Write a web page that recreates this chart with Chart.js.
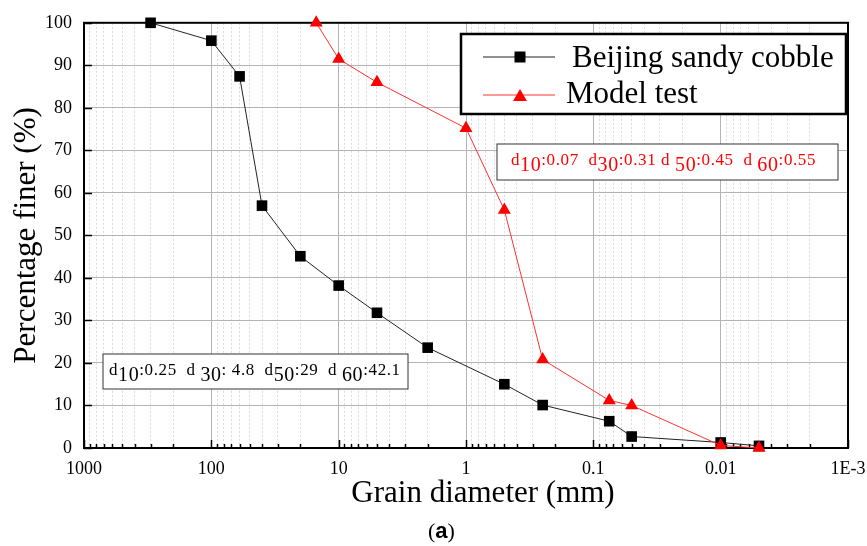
<!DOCTYPE html>
<html>
<head>
<meta charset="utf-8">
<script src="https://cdn.jsdelivr.net/npm/chart.js@4.4.1/dist/chart.umd.min.js"></script>
<style>
  body { margin: 0; background: #fff; }
  canvas { display: block; }
</style>
</head>
<body>
<canvas id="grading-chart" width="867" height="546"></canvas>
<script>
const SERIF = "'Liberation Serif', 'Times New Roman', serif";

// Sieblinien: Korndurchmesser (mm) und Siebdurchgang (%)
const cobbleDiameters = [300, 100, 60, 40, 20, 10, 5, 2, 0.5, 0.25, 0.075, 0.05, 0.01, 0.005];
const cobbleFiner = [100, 95.8, 87.4, 57.0, 45.1, 38.2, 31.8, 23.6, 15.0, 10.1, 6.3, 2.7, 1.3, 0.5];
const modelDiameters = [15, 10, 5, 1, 0.5, 0.25, 0.075, 0.05, 0.01, 0.005];
const modelFiner = [100, 91.5, 86.0, 75.2, 56.0, 20.8, 11.2, 10.0, 0.6, 0.0];

const seriesLabels = ['Beijing sandy cobble', 'Model test'];
const xTitle = 'Grain diameter (mm)';
const yTitle = 'Percentage finer (%)';
const xMajorTicks = [1000, 100, 10, 1, 0.1, 0.01, 0.001];
const xTickLabels = ['1000', '100', '10', '1', '0.1', '0.01', '1E-3'];

// Kennwerte: [Text, Index, Text, Index, ...]
const cobbleNote = ['d', '10', ':0.25  d ', '30', ': 4.8  d', '50', ':29  d ', '60', ':42.1'];
const modelNote = ['d', '10', ':0.07  d', '30', ':0.31 d ', '50', ':0.45  d ', '60', ':0.55'];

// alle Teilstriche 1..9 pro Dekade
const xTickValues = [];
for (let k = -3; k <= 2; k++) {
    for (let m = 1; m <= 9; m++) xTickValues.push(parseFloat((m * Math.pow(10, k)).toPrecision(3)));
}
xTickValues.push(1000);

const isMajorX = v => xMajorTicks.includes(v);
const isMajorY = v => v % 10 === 0;

function drawNote(ctx, parts, x, baseline, color) {
    ctx.fillStyle = color;
    ctx.textAlign = 'left';
    ctx.textBaseline = 'alphabetic';
    ctx.letterSpacing = '0.6px';
    parts.forEach((txt, i) => {
        const sub = i % 2 === 1;
        ctx.font = sub ? `20px ${SERIF}` : `17px ${SERIF}`;
        ctx.fillText(txt, x, sub ? baseline + 6 : baseline);
        x += ctx.measureText(txt).width;
    });
    ctx.letterSpacing = '0px';
}

function drawBox(ctx, x, y, w, h, lw, color) {
    ctx.fillStyle = '#fff';
    ctx.fillRect(x, y, w, h);
    ctx.strokeStyle = color;
    ctx.lineWidth = lw;
    ctx.strokeRect(x, y, w, h);
}

function drawSquare(ctx, x, y, side, color) {
    ctx.fillStyle = color;
    ctx.fillRect(x - side / 2, y - side / 2, side, side);
}

function drawTriangle(ctx, x, y, r, color) {
    ctx.fillStyle = color;
    ctx.beginPath();
    ctx.moveTo(x, y - r);
    ctx.lineTo(x + r * 0.866, y + r / 2);
    ctx.lineTo(x - r * 0.866, y + r / 2);
    ctx.closePath();
    ctx.fill();
}

const framePlugin = {
    id: 'frame',
    beforeDatasetsDraw(chart) {
        const { ctx, chartArea: a, scales } = chart;
        ctx.save();
        ctx.strokeStyle = '#000';
        ctx.lineWidth = 1.5;
        ctx.beginPath();
        // Teilstriche nach innen
        xTickValues.forEach(v => {
            const px = Math.round(scales.x.getPixelForValue(v)) + 0.5;
            const len = isMajorX(v) ? 8 : 4;
            ctx.moveTo(px, a.bottom);
            ctx.lineTo(px, a.bottom - len);
        });
        scales.y.ticks.forEach(t => {
            const py = Math.round(scales.y.getPixelForValue(t.value)) + 0.5;
            const len = isMajorY(t.value) ? 8 : 5;
            ctx.moveTo(a.left, py);
            ctx.lineTo(a.left + len, py);
        });
        ctx.stroke();
        ctx.lineWidth = 2;
        ctx.strokeRect(a.left, a.top, a.right - a.left, a.bottom - a.top);
        ctx.restore();
    },
    afterDatasetsDraw(chart) {
        const { ctx } = chart;
        ctx.save();
        // Legende
        drawBox(ctx, 461, 34, 385, 80, 2.5, '#000');
        ctx.lineWidth = 1;
        ctx.strokeStyle = '#222';
        ctx.beginPath(); ctx.moveTo(483, 57); ctx.lineTo(555, 57); ctx.stroke();
        drawSquare(ctx, 520, 57, 11, '#000');
        ctx.strokeStyle = '#ff3030';
        ctx.beginPath(); ctx.moveTo(483, 95); ctx.lineTo(555, 95); ctx.stroke();
        drawTriangle(ctx, 520, 97, 8, '#ff0000');
        ctx.fillStyle = '#000';
        ctx.font = `31px ${SERIF}`;
        ctx.textAlign = 'left';
        ctx.textBaseline = 'alphabetic';
        ctx.fillText(seriesLabels[0], 572, 67);
        ctx.fillText(seriesLabels[1], 566, 103);

        // Kennwerte
        drawBox(ctx, 103, 354, 305, 35, 1, '#333');
        drawNote(ctx, cobbleNote, 109, 375, '#000');
        drawBox(ctx, 497, 144, 341, 36, 1, '#333');
        drawNote(ctx, modelNote, 511, 165, '#ff0000');

        // x-Achsentitel
        ctx.fillStyle = '#000';
        ctx.font = `31px ${SERIF}`;
        ctx.textAlign = 'center';
        ctx.fillText(xTitle, 483, 502);

        // (a)
        ctx.textAlign = 'left';
        let x = 428;
        ctx.font = `22px ${SERIF}`;
        ctx.fillText('(', x, 538); x += ctx.measureText('(').width;
        ctx.font = `bold 22px 'Liberation Sans', sans-serif`;
        ctx.fillText('a', x, 538); x += ctx.measureText('a').width;
        ctx.font = `22px ${SERIF}`;
        ctx.fillText(')', x, 538);
        ctx.restore();
    }
};

const ctx = document.getElementById('grading-chart').getContext('2d');
new Chart(ctx, {
    type: 'line',
    data: {
        datasets: [{
            label: seriesLabels[0],
            data: cobbleDiameters.map((d, i) => ({ x: d, y: cobbleFiner[i] })),
            borderColor: '#222',
            borderWidth: 1,
            pointStyle: 'rect',
            pointRadius: 7.5,
            pointBackgroundColor: '#000',
            pointBorderWidth: 0,
            clip: false,
            order: 2
        }, {
            label: seriesLabels[1],
            data: modelDiameters.map((d, i) => ({ x: d, y: modelFiner[i] })),
            borderColor: '#ff3030',
            borderWidth: 1,
            pointStyle: 'triangle',
            pointRadius: 7.5,
            pointBackgroundColor: '#ff0000',
            pointBorderWidth: 0,
            clip: false,
            order: 1
        }]
    },
    options: {
        responsive: false,
        animation: false,
        devicePixelRatio: 1,
        layout: { padding: { top: 20, right: 19, left: 0, bottom: 0 } },
        plugins: {
            legend: { display: false },
            tooltip: { enabled: false }
        },
        scales: {
            x: {
                type: 'logarithmic',
                reverse: true,
                min: 0.001,
                max: 1000,
                afterBuildTicks: scale => {
                    scale.ticks = xTickValues.map(v => ({ value: v, major: isMajorX(v) }));
                },
                afterFit: scale => { scale.height = 98; },
                ticks: {
                    autoSkip: false,
                    maxRotation: 0,
                    padding: 10,
                    color: '#000',
                    font: { family: SERIF, size: 18 },
                    callback: v => {
                        const i = xMajorTicks.indexOf(v);
                        return i >= 0 ? xTickLabels[i] : '';
                    }
                },
                grid: {
                    drawTicks: false,
                    lineWidth: 1,
                    color: c => isMajorX(c.tick.value) ? '#b4b4b4' : '#dadada'
                },
                border: {
                    display: false,
                    dash: c => isMajorX(c.tick.value) ? [] : [2, 2]
                },
                title: { display: false }
            },
            y: {
                min: 0,
                max: 100,
                afterFit: scale => { scale.width = 84; },
                ticks: {
                    stepSize: 5,
                    padding: 12,
                    color: '#000',
                    font: { family: SERIF, size: 18 },
                    callback: v => isMajorY(v) ? String(v) : ''
                },
                grid: {
                    drawTicks: false,
                    lineWidth: 1,
                    color: c => isMajorY(c.tick.value) ? '#b4b4b4' : '#dadada'
                },
                border: {
                    display: false,
                    dash: c => isMajorY(c.tick.value) ? [] : [2, 2]
                },
                title: {
                    display: true,
                    text: yTitle,
                    color: '#000',
                    font: { family: SERIF, size: 31 },
                    padding: { top: 8, bottom: 0 }
                }
            }
        }
    },
    plugins: [framePlugin]
});
</script>
</body>
</html>
